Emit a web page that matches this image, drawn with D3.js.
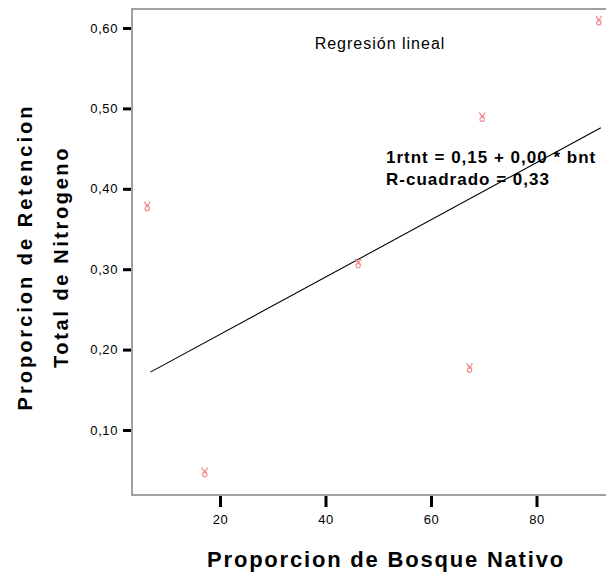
<!DOCTYPE html>
<html>
<head>
<meta charset="utf-8">
<script src="https://cdn.jsdelivr.net/npm/d3@7"></script>
<style>
  html, body { margin: 0; padding: 0; background: #fff; }
  svg { display: block; font-family: Arial, "Liberation Sans", sans-serif; }
</style>
</head>
<body>
<svg id="chart" width="606" height="575"></svg>
<script>
// Data
const bnt = [6.2, 17.1, 46.2, 67.3, 69.7, 91.8];          // Proporcion de Bosque Nativo
const rtnt = [0.378, 0.047, 0.307, 0.177, 0.489, 0.609];   // Proporcion de Retencion Total de Nitrogeno
const fitX = [6.8, 92.2];                                  // regression line ends (x)
const fitY = [0.172, 0.476];                               // regression line ends (y)
const xTicks = [20, 40, 60, 80];
const yTicks = [0.1, 0.2, 0.3, 0.4, 0.5, 0.6];
const titleText = "Regresión lineal";
const eqLines = ["1rtnt = 0,15 + 0,00 * bnt", "R-cuadrado = 0,33"];

const svg = d3.select("#chart");
const pLeft = 132, pTop = 9, pBottom = 495, pRight = 610;
const FONT = "Arial, 'Liberation Sans', sans-serif";

const x = d3.scaleLinear().domain([20, 80]).range([220, 536.5]);
const y = d3.scaleLinear().domain([0.1, 0.6]).range([430, 28]);

// frame
svg.append("path")
  .attr("d", `M${pRight},${pTop}H${pLeft}V${pBottom}H${pRight}`)
  .attr("fill", "none").attr("stroke", "#a0a0a0").attr("stroke-width", 2);

const fmt = d => d3.format(".2f")(d).replace(".", ",");

// x axis
const gx = svg.append("g").attr("transform", `translate(0,${pBottom + 1})`)
  .call(d3.axisBottom(x).tickValues(xTicks).tickSize(11).tickPadding(8).tickFormat(d3.format("d")));
gx.select(".domain").remove();
gx.selectAll(".tick line").attr("stroke", "#000").attr("stroke-width", 3);
gx.selectAll(".tick text").attr("font-size", 13).attr("letter-spacing", 0.6)
  .attr("font-family", FONT).attr("fill", "#000");

// y axis
const gy = svg.append("g").attr("transform", `translate(${pLeft - 1},0)`)
  .call(d3.axisLeft(y).tickValues(yTicks).tickSize(8).tickPadding(5).tickFormat(fmt));
gy.select(".domain").remove();
gy.selectAll(".tick line").attr("stroke", "#000").attr("stroke-width", 3);
gy.selectAll(".tick text").attr("font-size", 13).attr("letter-spacing", 0.6)
  .attr("font-family", FONT).attr("fill", "#000");

// regression line
svg.append("path")
  .datum(d3.zip(fitX, fitY))
  .attr("d", d3.line().x(d => x(d[0])).y(d => y(d[1])))
  .attr("fill", "none").attr("stroke", "#000").attr("stroke-width", 1.1);

// markers
const pts = d3.zip(bnt, rtnt);
const mk = svg.append("g").selectAll("g").data(pts).join("g")
  .attr("transform", d => `translate(${x(d[0])},${y(d[1])})`)
  .attr("fill", "none").attr("stroke", "#f29090").attr("stroke-width", 1.2);
mk.append("path").attr("d", "M-3,-5L0,0L3,-5M-2.5,-3.5L2,0");
mk.append("circle").attr("cx", 0).attr("cy", 2).attr("r", 2.2);

// title
svg.append("text").attr("x", 380).attr("y", 48.5).attr("text-anchor", "middle")
  .attr("font-size", 16).attr("letter-spacing", 1).text(titleText);

// equation
svg.selectAll("text.eq").data(eqLines).join("text").attr("class", "eq")
  .attr("x", 386).attr("y", (d, i) => 163 + i * 21.5)
  .attr("font-size", 17).attr("letter-spacing", 1).attr("font-weight", "bold").text(d => d);

// axis titles
svg.append("text").attr("x", 386).attr("y", 567).attr("text-anchor", "middle")
  .attr("font-size", 22).attr("font-weight", "bold").attr("letter-spacing", 1.8)
  .text("Proporcion de Bosque Nativo");

const yl = svg.append("g").attr("transform", "translate(0,257) rotate(-90)");
yl.append("text").attr("x", 0).attr("y", 31.5).attr("text-anchor", "middle")
  .attr("font-size", 20).attr("font-weight", "bold").attr("letter-spacing", 3)
  .text("Proporcion de Retencion");
yl.append("text").attr("x", 0).attr("y", 67.5).attr("text-anchor", "middle")
  .attr("font-size", 20).attr("font-weight", "bold").attr("letter-spacing", 2.6)
  .text("Total de Nitrogeno");
</script>
</body>
</html>
